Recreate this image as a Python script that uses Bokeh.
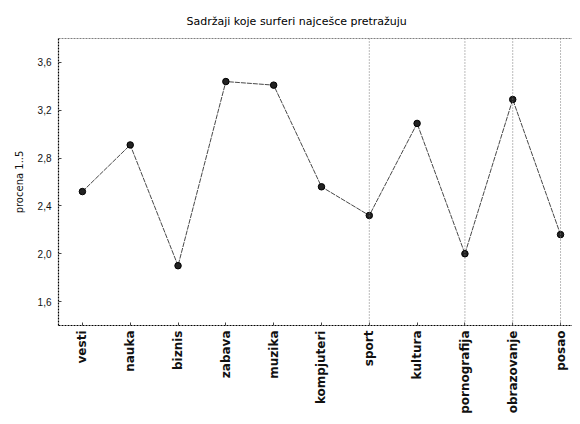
from bokeh.plotting import figure
from bokeh.models import Range1d, FixedTicker, Span
from bokeh.embed import file_html
from bokeh.resources import INLINE

categories = ["vesti", "nauka", "biznis", "zabava", "muzika", "kompjuteri",
              "sport", "kultura", "pornografija", "obrazovanje", "posao"]
values = [2.52, 2.91, 1.90, 3.44, 3.41, 2.56, 2.32, 3.09, 2.00, 3.29, 2.16]
y_ticks = [1.6, 2.0, 2.4, 2.8, 3.2, 3.6]
y_tick_labels = ["1,6", "2,0", "2,4", "2,8", "3,2", "3,6"]
grid_cats = ["sport", "pornografija", "obrazovanje", "posao"]
title = "Sadržaji koje surferi najcešce pretražuju"
y_label = "procena 1..5"

xs = list(range(len(categories)))

p = figure(width=572, height=416, output_backend="svg", toolbar_location=None,
           x_range=Range1d(-0.5, 10.25), y_range=Range1d(1.4, 3.8),
           min_border_left=58, min_border_right=0, min_border_top=38,
           min_border_bottom=89)

p.title.text = title
p.title.align = "left"
p.title.offset = 128
p.title.text_font = "DejaVu Sans"
p.title.text_font_size = "11px"
p.title.text_font_style = "normal"
p.title.text_color = "#000000"
p.title.standoff = 21

p.outline_line_color = None
p.xgrid.visible = False
p.ygrid.visible = False
p.background_fill_color = "white"
p.border_fill_color = "white"

# axes
p.xaxis.ticker = FixedTicker(ticks=xs)
p.xaxis.major_label_overrides = {i: c for i, c in enumerate(categories)}
p.xaxis.major_label_orientation = 1.5707963
p.xaxis.major_label_text_font = "DejaVu Sans"
p.xaxis.major_label_text_font_style = "bold"
p.xaxis.major_label_text_font_size = "12px"
p.xaxis.major_label_text_color = "#111111"
p.xaxis.major_label_standoff = 5
p.xaxis.minor_tick_line_color = None

p.yaxis.ticker = FixedTicker(ticks=y_ticks)
p.yaxis.major_label_overrides = {t: l for t, l in zip(y_ticks, y_tick_labels)}
p.yaxis.major_label_text_font = "Liberation Sans"
p.yaxis.major_label_text_font_size = "10px"
p.yaxis.major_label_text_color = "#111111"
p.yaxis.major_label_standoff = 7
p.yaxis.minor_tick_line_color = None
p.yaxis.axis_label = y_label
p.yaxis.axis_label_text_font = "DejaVu Sans"
p.yaxis.axis_label_text_font_size = "10px"
p.yaxis.axis_label_text_font_style = "normal"
p.yaxis.axis_label_text_color = "#111111"
p.yaxis.axis_label_standoff = 10

for ax in (p.xaxis, p.yaxis):
    ax.axis_line_color = "black"
    ax.axis_line_dash = "2 1"
    ax.axis_line_width = 1.2
    ax.major_tick_in = 3
    ax.major_tick_out = 0
    ax.major_tick_line_color = "#444444"

# top border
p.add_layout(Span(location=3.8, dimension="width", line_color="black",
                  line_dash="2 1", line_width=1.2))

# partial vertical grid lines
for c in grid_cats:
    p.add_layout(Span(location=categories.index(c), dimension="height",
                      line_color="#777777", line_dash="1 2", line_width=1))

p.line(xs, values, line_color="#333333", line_width=0.9, line_dash="5 1")
p.scatter(xs, values, size=6.5, marker="circle", fill_color="#222222",
          line_color="black", line_width=1)

open("out.html", "w").write(file_html(p, INLINE))
